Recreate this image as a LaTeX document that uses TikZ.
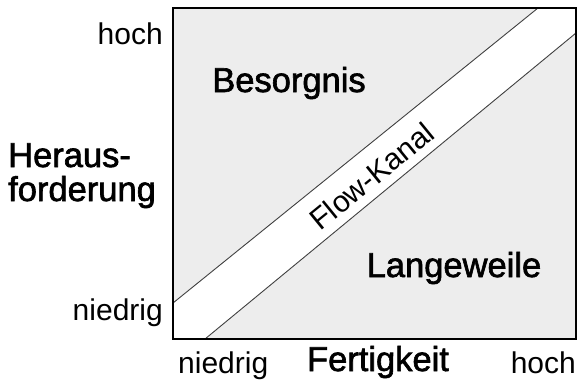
\documentclass[tikz,border=0pt]{standalone}
\usepackage{fontspec}
\setmainfont{Liberation Sans}
\newfontfamily\medsans[FakeBold=1.8]{Liberation Sans}
\begin{document}
\begin{tikzpicture}[x=1pt,y=1pt,
  big/.style={font=\medsans\fontsize{34.5}{35}\selectfont, inner sep=0pt},
  small/.style={font=\fontsize{30}{31}\selectfont, inner sep=0pt},
  channel/.style={font=\fontsize{30}{31}\selectfont, inner sep=0pt}]
\useasboundingbox (0,0) rectangle (579,384);
\definecolor{zonegrey}{HTML}{EDEDED}
\definecolor{edge}{HTML}{404040}
% corners of the plot and ends of the channel borders
\coordinate (bl) at (173,45);
\coordinate (tr) at (576,376);
\coordinate (ua) at (173,81);
\coordinate (ub) at (538,376);
\coordinate (la) at (205,45);
\coordinate (lb) at (576,351);
% background and flow channel
\fill[zonegrey] (bl) rectangle (tr);
\fill[white] (ua) -- (ub) -- (tr) -- (lb) -- (la) -- (bl) -- cycle;
\draw[edge, line width=0.9pt] (ua) -- (ub);
\draw[edge, line width=0.9pt] (la) -- (lb);
\draw[black, line width=1.6pt] (bl) rectangle (tr);
% region labels
\node[big, anchor=base] (worry) at (289,292) {Besorgnis};
\node[big, anchor=base] (bored) at (454,107) {Langeweile};
\node[channel, rotate=39.2] (flow) at (372,208) {Flow-Kanal};
% vertical axis
\node[small, anchor=base east] (yhi) at (163,339) {hoch};
\node[small, anchor=base east] (ylo) at (163,64) {niedrig};
\node[big, anchor=base west] (ylab1) at (8,217) {Heraus-};
\node[big, anchor=base west] (ylab2) at (8,183) {forderung};
% horizontal axis
\node[small, anchor=base west] (xlo) at (178,11) {niedrig};
\node[small, anchor=base east] (xhi) at (576,11) {hoch};
\node[big, anchor=base] (xlab) at (378,13) {Fertigkeit};
\end{tikzpicture}
\end{document}
